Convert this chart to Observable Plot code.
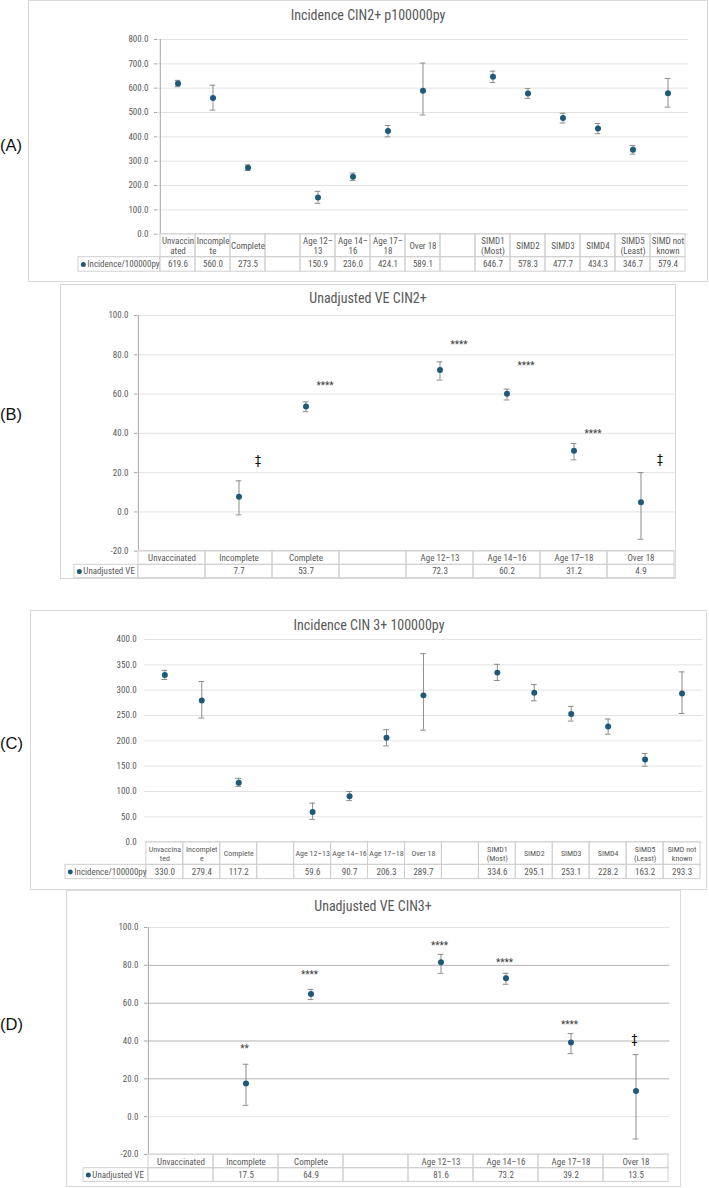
<!DOCTYPE html>
<html>
<head>
<meta charset="utf-8">
<script src="https://cdn.jsdelivr.net/npm/d3@7"></script>
<script src="https://cdn.jsdelivr.net/npm/@observablehq/plot@0.6"></script>
<style>
  body { margin: 0; background: #fff; }
  #page { position: relative; width: 709px; height: 1188px; overflow: hidden; background: #fff; }
  .box { position: absolute; border: 1px solid #d9d9d9; box-sizing: border-box; }
  .title { position: absolute; transform: translate(-50%, -50%); white-space: nowrap;
           font-family: "Liberation Sans Narrow", "Arial Narrow", "Roboto Condensed", Roboto, sans-serif;
           font-size: 14px; color: #595959; }
  .tag { position: absolute; left: 0; transform: translateY(-50%); white-space: nowrap;
         font-family: "Liberation Sans", Arial, sans-serif; font-size: 16.5px; color: #111; }
  .chart { position: absolute; }
  .chart svg { display: block; overflow: visible; }
</style>
</head>
<body>
<div id="page"></div>
<script>
// ---- Incidence per 100 000 person-years (CIN2+ and CIN3+) ----
const incidenceGroups = ["Unvaccinated", "Incomplete", "Complete", "", "Age 12–13", "Age 14–16",
  "Age 17–18", "Over 18", "", "SIMD1 (Most)", "SIMD2", "SIMD3", "SIMD4", "SIMD5 (Least)", "SIMD not known"];
const cin2Headers = ["Unvaccin\nated", "Incomple\nte", "Complete", "", "Age 12–\n13", "Age 14–\n16",
  "Age 17–\n18", "Over 18", "", "SIMD1\n(Most)", "SIMD2", "SIMD3", "SIMD4", "SIMD5\n(Least)", "SIMD not\nknown"];
const cin3Headers = ["Unvaccina\nted", "Incomplet\ne", "Complete", "", "Age 12–13", "Age 14–16",
  "Age 17–18", "Over 18", "", "SIMD1\n(Most)", "SIMD2", "SIMD3", "SIMD4", "SIMD5\n(Least)", "SIMD not\nknown"];

const cin2Rate = [619.6, 560.0, 273.5, null, 150.9, 236.0, 424.1, 589.1, null, 646.7, 578.3, 477.7, 434.3, 346.7, 579.4];
const cin2Low  = [606, 510, 262, null, 127, 221, 400, 490, null, 623, 558, 457, 413, 329, 522];
const cin2High = [632, 612, 285, null, 176, 251, 447, 703, null, 670, 598, 497, 455, 364, 640];

const cin3Rate = [330.0, 279.4, 117.2, null, 59.6, 90.7, 206.3, 289.7, null, 334.6, 295.1, 253.1, 228.2, 163.2, 293.3];
const cin3Low  = [321, 245, 110, null, 45, 82, 190, 221, null, 319, 279, 239, 213, 150, 254];
const cin3High = [339, 317, 126, null, 77, 100, 222, 372, null, 351, 311, 268, 243, 175, 336];

// ---- Unadjusted vaccine effectiveness (%) ----
const veGroups = ["Unvaccinated", "Incomplete", "Complete", "", "Age 12–13", "Age 14–16", "Age 17–18", "Over 18"];

const cin2VE     = [null, 7.7, 53.7, null, 72.3, 60.2, 31.2, 4.9];
const cin2VELow  = [null, -1.5, 51.0, null, 67.1, 57.0, 26.5, -13.9];
const cin2VEHigh = [null, 15.8, 56.0, null, 76.4, 62.5, 34.8, 20.0];
const cin2Sig    = [null, "‡", "****", null, "****", "****", "****", "‡"];
const cin2SigAt  = [null, 26.3, 65.0, null, 86.2, 75.2, 40.7, 26.8];

const cin3VE     = [null, 17.5, 64.9, null, 81.6, 73.2, 39.2, 13.5];
const cin3VELow  = [null, 6.0, 61.9, null, 75.8, 70.0, 33.3, -11.8];
const cin3VEHigh = [null, 27.7, 67.3, null, 85.8, 75.8, 43.9, 32.8];
const cin3Sig    = [null, "**", "****", null, "****", "****", "****", "‡"];
const cin3SigAt  = [null, 36.8, 75.8, null, 91.6, 82.3, 49.5, 41.2];

const FONT = '"Liberation Sans Narrow", "Arial Narrow", "Roboto Condensed", Roboto, sans-serif';
const DOT = "#1d5a7a";
const BAR = "#8c8c8c";
const GRID = "#e3e3e3";
const LINE = "#d0d0d0";

const panels = [
  {
    box: [28, 0, 708, 282], title: "Incidence CIN2+ p100000py", titleX: 368, titleY: 15,
    tag: "(A)", tagY: 144.5,
    frameLeft: 157, frameRight: 688, frameTop: 39.3, frameBottom: 234,
    headerH: 23, rowH: 14.5, legendLeft: 75, headerSize: 9,
    yDomain: [0, 800], yTicks: d3.range(0, 801, 100), darkTicks: [],
    axisLine: true, tickSize: 3, tickPadding: 6,
    header: cin2Headers, value: cin2Rate, low: cin2Low, high: cin2High,
    legend: "Incidence/100000py"
  },
  {
    box: [60, 284, 676, 579], title: "Unadjusted VE CIN2+", titleX: 368, titleY: 298.3,
    tag: "(B)", tagY: 414,
    frameLeft: 136.7, frameRight: 675, frameTop: 315, frameBottom: 550.7,
    headerH: 13.6, rowH: 13.4, legendLeft: 72.7, headerSize: 9,
    yDomain: [-20, 100], yTicks: d3.range(-20, 101, 20), darkTicks: [],
    axisLine: true, tickSize: 3, tickPadding: 6,
    header: veGroups, value: cin2VE, low: cin2VELow, high: cin2VEHigh,
    sig: cin2Sig, sigAt: cin2SigAt, sigDx: 19,
    legend: "Unadjusted VE"
  },
  {
    box: [30, 610, 707, 890], title: "Incidence CIN 3+ 100000py", titleX: 369, titleY: 625,
    tag: "(C)", tagY: 742.7,
    frameLeft: 144.3, frameRight: 704, frameTop: 639.3, frameBottom: 842.3,
    headerH: 22.7, rowH: 14.3, legendLeft: 63.3, headerSize: 8,
    yDomain: [0, 400], yTicks: d3.range(0, 401, 50), darkTicks: [],
    axisLine: false, tickSize: 0, tickPadding: 7.7,
    header: cin3Headers, value: cin3Rate, low: cin3Low, high: cin3High,
    legend: "Incidence/100000py"
  },
  {
    box: [66, 890, 681, 1187], title: "Unadjusted VE CIN3+", titleX: 373, titleY: 906,
    tag: "(D)", tagY: 1024,
    frameLeft: 146.7, frameRight: 669, frameTop: 927.3, frameBottom: 1154.3,
    headerH: 13.7, rowH: 13.7, legendLeft: 81.7, headerSize: 9,
    yDomain: [-20, 100], yTicks: [-20, 0, 100], darkTicks: [20, 40, 60, 80],
    axisLine: true, tickSize: 3, tickPadding: 6,
    header: veGroups, value: cin3VE, low: cin3VELow, high: cin3VEHigh,
    sig: cin3Sig, sigAt: cin3SigAt, sigDx: -1.5,
    legend: "Unadjusted VE"
  }
];

const page = document.getElementById("page");
const fmt = (v) => v.toFixed(1);

function addDiv(cls, css, text) {
  const el = document.createElement("div");
  el.className = cls;
  Object.assign(el.style, css);
  if (text != null) el.textContent = text;
  page.appendChild(el);
  return el;
}

for (const p of panels) {
  const [bx0, by0, bx1, by1] = p.box;
  addDiv("box", {left: bx0 + "px", top: by0 + "px", width: (bx1 - bx0) + "px", height: (by1 - by0) + "px"});
  addDiv("title", {left: p.titleX + "px", top: p.titleY + "px"}, p.title);
  addDiv("tag", {top: p.tagY + "px"}, p.tag);

  const n = p.header.length;
  const idx = d3.range(n);
  const tableH = p.headerH + p.rowH;
  const svgLeft = p.legendLeft - 3, svgRight = p.frameRight + 6;
  const svgTop = p.frameTop - 10, svgBottom = p.frameBottom + tableH + 3;
  const width = svgRight - svgLeft, height = svgBottom - svgTop;
  const innerH = p.frameBottom - p.frameTop;
  const bw = (p.frameRight - p.frameLeft) / n;
  const legendW = p.frameLeft - p.legendLeft;
  const capInset = (bw - 6) / 2;

  const rows = idx.filter((i) => p.value[i] != null)
    .map((i) => ({i, v: p.value[i], lo: p.low[i], hi: p.high[i]}));
  const sigRows = p.sig ? idx.filter((i) => p.sig[i]).map((i) => ({i, s: p.sig[i], at: p.sigAt[i]})) : [];
  const starRows = sigRows.filter((d) => d.s !== "‡");
  const daggerRows = sigRows.filter((d) => d.s === "‡");

  const marks = [
    // horizontal gridlines
    Plot.ruleY(p.yTicks, {stroke: GRID}),
    Plot.ruleY(p.darkTicks, {stroke: "#b3b3b3"}),
    // data table: header cells and value cells
    Plot.cell(idx, {x: (d) => d, fill: "none", stroke: LINE, insetTop: innerH, insetBottom: -p.headerH}),
    Plot.cell(idx, {x: (d) => d, fill: "none", stroke: LINE, insetTop: innerH + p.headerH, insetBottom: -tableH}),
    Plot.cell([0], {x: (d) => d, fill: "none", stroke: LINE, insetTop: innerH + p.headerH, insetBottom: -tableH,
      insetLeft: -legendW, insetRight: bw}),
    Plot.text(idx, {x: (d) => d, text: (d) => p.header[d], frameAnchor: "bottom", dy: p.headerH / 2,
      lineAnchor: "middle", lineHeight: 1.15, fontSize: p.headerSize, fill: "#595959"}),
    Plot.text(idx, {x: (d) => d, text: (d) => p.value[d] == null ? "" : fmt(p.value[d]), frameAnchor: "bottom",
      dy: p.headerH + p.rowH / 2, lineAnchor: "middle", fontSize: 9, fill: "#595959"}),
    // legend entry in the table's first cell
    Plot.dot([0], {x: (d) => d, frameAnchor: "bottom", dx: -bw / 2 - legendW + 5, dy: p.headerH + p.rowH / 2,
      r: 2.5, fill: DOT}),
    Plot.text([p.legend], {x: () => 0, text: (d) => d, frameAnchor: "bottom", textAnchor: "start",
      dx: -bw / 2 - legendW + 9, dy: p.headerH + p.rowH / 2, lineAnchor: "middle", fontSize: 9, fill: "#595959"}),
    // y axis
    Plot.axisY([...p.yTicks, ...p.darkTicks].sort((a, b) => a - b), {
      tickFormat: fmt, tickSize: p.tickSize, tickPadding: p.tickPadding, stroke: "#a6a6a6",
      fill: "#595959", fontSize: 9, label: null
    }),
    // error bars with caps
    Plot.ruleX(rows, {x: "i", y1: "lo", y2: "hi", stroke: BAR, strokeWidth: 1}),
    Plot.tickY(rows, {x: "i", y: "lo", stroke: BAR, insetLeft: capInset, insetRight: capInset}),
    Plot.tickY(rows, {x: "i", y: "hi", stroke: BAR, insetLeft: capInset, insetRight: capInset}),
    // point estimates
    Plot.dot(rows, {x: "i", y: "v", r: 3, fill: DOT}),
    // significance markers
    Plot.text(starRows, {x: "i", y: "at", text: "s", dx: p.sigDx || 0, dy: 2, fontSize: 10, fill: "#404040"}),
    Plot.text(daggerRows, {x: "i", y: "at", text: "s", dx: p.sigDx || 0, fontSize: 13, fill: "#111"})
  ];
  if (p.axisLine) {
    marks.splice(2, 0, Plot.ruleX([0], {x: (d) => d, dx: -bw / 2, stroke: "#a6a6a6"}));
  }

  const chart = Plot.plot({
    width, height,
    marginLeft: p.frameLeft - svgLeft, marginRight: svgRight - p.frameRight,
    marginTop: p.frameTop - svgTop, marginBottom: svgBottom - p.frameBottom,
    style: {fontFamily: FONT, fontSize: "9px", color: "#595959", background: "none", overflow: "visible"},
    x: {type: "band", domain: idx, paddingInner: 0, paddingOuter: 0, axis: null},
    y: {domain: p.yDomain, axis: null},
    marks
  });
  const holder = addDiv("chart", {left: svgLeft + "px", top: svgTop + "px"});
  holder.appendChild(chart);
}
</script>
</body>
</html>
